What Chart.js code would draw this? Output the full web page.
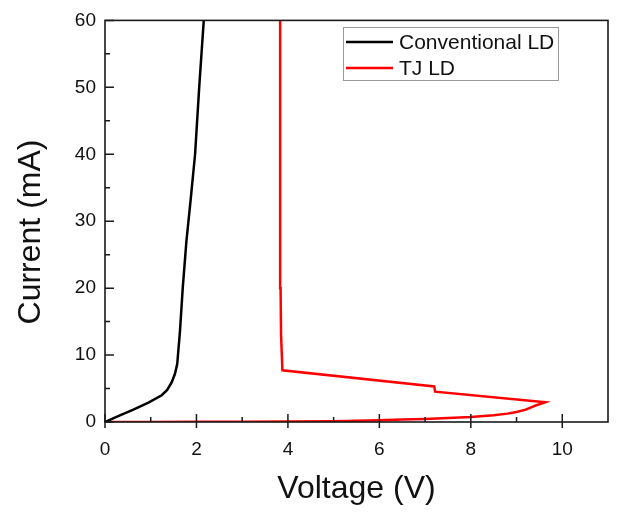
<!DOCTYPE html>
<html>
<head>
<meta charset="utf-8">
<script src="https://cdn.jsdelivr.net/npm/chart.js@4/dist/chart.umd.min.js"></script>
<style>
html,body{margin:0;padding:0;background:#fff;}
#c{display:block;}
</style>
</head>
<body>
<canvas id="c" width="622" height="513"></canvas>
<script>
// Data (Voltage V, Current mA)
const seriesNames = ["Conventional LD", "TJ LD"];
const conventionalV = [0, 0.3, 0.62, 0.95, 1.24, 1.36, 1.46, 1.53, 1.58, 1.64, 1.70, 1.78, 1.87, 1.97, 2.06, 2.16];
const conventionalI = [0, 0.9, 1.85, 2.9, 4.0, 4.8, 5.95, 7.2, 8.7, 13.6, 20, 27, 33, 40, 50, 60];
const tjV = [0, 1, 2, 3, 4, 5, 5.5, 6, 6.5, 7, 7.5, 8, 8.5, 8.8, 9.0, 9.2, 9.43, 9.55, 9.63, 7.22, 7.20, 3.88, 3.85, 3.84, 3.83];
const tjI = [0, 0.01, 0.02, 0.03, 0.06, 0.12, 0.18, 0.28, 0.36, 0.46, 0.58, 0.74, 1.02, 1.25, 1.5, 1.85, 2.5, 2.75, 2.95, 4.53, 5.32, 7.73, 13, 20, 60];
const xTickLabels = [0, 2, 4, 6, 8, 10];
const xMinorTicks = [1, 3, 5, 7, 9];
const yTickLabels = [0, 10, 20, 30, 40, 50, 60];
const yMinorTicks = [5, 15, 25, 35, 45, 55];
const seriesColors = ["#000000", "#ff0000"];
const xTitle = "Voltage (V)";
const yTitle = "Current (mA)";

const toPts = (xs, ys) => xs.map((x, i) => ({x: x, y: ys[i]}));
const FONT = "'Liberation Sans', Arial, Helvetica, sans-serif";

const framePlugin = {
  id: 'frameTicks',
  afterDatasetsDraw(chart) {
    const ctx = chart.ctx, a = chart.chartArea;
    const xs = chart.scales.x, ys = chart.scales.y;
    ctx.save();
    ctx.strokeStyle = '#1a1a1a';
    ctx.lineWidth = 1.6;
    ctx.strokeRect(a.left, a.top, a.right - a.left, a.bottom - a.top);
    ctx.lineWidth = 1.5;
    ctx.beginPath();
    xTickLabels.forEach(v => { const p = xs.getPixelForValue(v); ctx.moveTo(p, a.bottom - 8); ctx.lineTo(p, a.bottom + 6); });
    xMinorTicks.forEach(v => { const p = xs.getPixelForValue(v); ctx.moveTo(p, a.bottom - 5); ctx.lineTo(p, a.bottom); });
    yTickLabels.forEach(v => { const p = ys.getPixelForValue(v); ctx.moveTo(a.left, p); ctx.lineTo(a.left + 9, p); });
    yMinorTicks.forEach(v => { const p = ys.getPixelForValue(v); ctx.moveTo(a.left, p); ctx.lineTo(a.left + 5, p); });
    ctx.stroke();
    // y axis title
    ctx.fillStyle = '#111';
    ctx.font = '32px ' + FONT;
    ctx.textAlign = 'center';
    ctx.textBaseline = 'middle';
    ctx.translate(31, 232);
    ctx.rotate(-Math.PI / 2);
    ctx.fillText(yTitle, 0, 0);
    ctx.setTransform(1, 0, 0, 1, 0, 0);
    // legend
    const lx = 343, ly = 27, lw = 215, lh = 53;
    ctx.strokeStyle = '#9a9a9a';
    ctx.lineWidth = 1;
    ctx.fillStyle = '#fff';
    ctx.fillRect(lx, ly, lw, lh);
    ctx.strokeRect(lx + 0.5, ly + 0.5, lw, lh);
    ctx.font = '21px ' + FONT;
    ctx.textBaseline = 'middle';
    ctx.textAlign = 'left';
    chart.data.datasets.forEach((ds, i) => {
      const y = 42 + i * 26;
      ctx.strokeStyle = ds.borderColor;
      ctx.lineWidth = 2.5;
      ctx.beginPath(); ctx.moveTo(346, y); ctx.lineTo(393, y); ctx.stroke();
      ctx.fillStyle = '#111';
      ctx.fillText(ds.label, 399, y + 1);
    });
    ctx.restore();
  }
};

new Chart(document.getElementById('c'), {
  type: 'scatter',
  data: {
    datasets: [
      {label: seriesNames[0], data: toPts(conventionalV, conventionalI), borderColor: seriesColors[0], backgroundColor: seriesColors[0], showLine: true, pointRadius: 0, borderWidth: 2.5, tension: 0},
      {label: seriesNames[1], data: toPts(tjV, tjI), borderColor: seriesColors[1], backgroundColor: seriesColors[1], showLine: true, pointRadius: 0, borderWidth: 2.5, tension: 0}
    ]
  },
  options: {
    responsive: false,
    animation: false,
    devicePixelRatio: 1,
    layout: {padding: {top: 16, right: 14, left: 0, bottom: 0}},
    plugins: {legend: {display: false}, tooltip: {enabled: false}},
    scales: {
      x: {
        type: 'linear', min: 0, max: 11,
        afterFit: s => { s.height = 91; },
        afterBuildTicks: s => { s.ticks = xTickLabels.map(v => ({value: v})); },
        grid: {display: false, drawTicks: false},
        border: {display: false},
        ticks: {color: '#111', font: {family: FONT, size: 19}, padding: 16, maxRotation: 0},
        title: {display: true, text: xTitle, color: '#111', font: {family: FONT, size: 32, lineHeight: 1}, padding: {top: 0, bottom: 8}}
      },
      y: {
        type: 'linear', min: 0, max: 60,
        afterFit: s => { s.width = 105; },
        afterBuildTicks: s => { s.ticks = yTickLabels.map(v => ({value: v})); },
        grid: {display: false, drawTicks: false},
        border: {display: false},
        ticks: {color: '#111', font: {family: FONT, size: 19}, padding: 9},
        title: {display: false, text: yTitle}
      }
    }
  },
  plugins: [framePlugin]
});
</script>
</body>
</html>
